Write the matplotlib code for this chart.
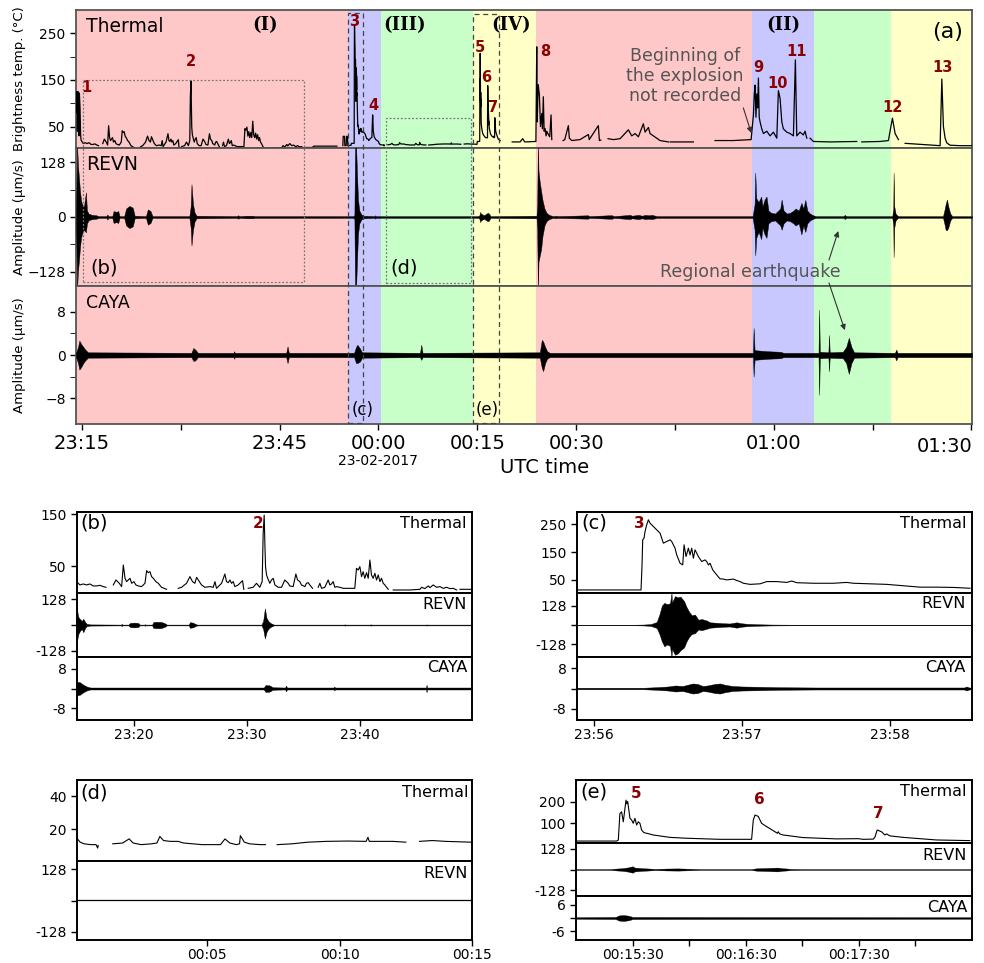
import numpy as np
import matplotlib
matplotlib.use("Agg")
import matplotlib.pyplot as plt
from matplotlib import transforms
from matplotlib.patches import Rectangle

nan = np.nan

# ---------------- DATA (time in minutes after 23:15 UTC unless noted) ----------------
# thermal: brightness temperature (deg C)
thermal_ev1 = [[-0.88, 80], [-0.82, 125], [-0.75, 125], [-0.7, 40], [-0.62, 125], [-0.52, 118],
               [-0.47, 30], [-0.4, 122], [-0.3, 90], [-0.22, 35], [-0.15, 22]]
thermal_b = [[-0.10, 19.9], [0.05, 16.7], [0.19, 13.5], [0.49, 15.4], [0.78, 13.5], [1.08, 15.4],
             [1.37, 11.6], [1.67, 11.6], [1.96, 12.8], [2.26, 10.3], [2.50, 9.0], [nan, nan],
             [3.15, 13.5], [3.39, 23.1], [3.68, 16.7], [3.89, 10.3], [4.04, 51.9], [4.19, 26.3],
             [4.33, 19.9], [4.63, 26.3], [4.78, 16.7], [4.98, 19.9], [5.16, 13.5], [5.37, 11.6],
             [5.66, 10.3], [5.96, 16.7], [6.11, 41.0], [6.25, 37.2], [6.40, 39.1], [6.55, 29.5],
             [6.70, 26.3], [6.93, 19.9], [7.14, 16.7], [7.43, 9.0], [7.88, 5.1], [nan, nan],
             [8.91, 7.0], [9.21, 9.0], [9.65, 16.7], [9.95, 29.5], [10.18, 19.9], [10.39, 16.7],
             [10.54, 28.2], [10.69, 23.1], [10.98, 13.5], [11.28, 9.0], [11.72, 10.3], [12.02, 9.0],
             [12.17, 19.9], [12.31, 7.0], [12.76, 16.7], [13.05, 34.6], [13.20, 19.9], [13.35, 17.9],
             [13.50, 23.1], [13.64, 16.7], [13.79, 19.9], [13.94, 10.3], [14.23, 13.5], [14.53, 19.9],
             [14.62, 21.8], [14.73, 5.1], [nan, nan],
             [15.12, 7.0], [15.56, 9.0], [15.86, 16.7], [16.15, 9.0], [16.36, 19.9], [16.45, 112.8],
             [16.54, 148], [16.60, 93.6], [16.66, 48.7], [16.75, 32.7], [16.89, 24.4], [17.04, 16.7],
             [17.19, 23.1], [17.34, 26.3], [17.49, 13.5], [17.78, 9.0], [18.08, 9.0], [18.37, 23.1],
             [18.52, 19.9], [18.67, 16.7], [18.81, 11.6], [19.11, 10.3], [19.35, 34.6], [19.50, 23.1],
             [19.70, 19.9], [19.85, 13.5], [20.15, 10.3], [20.29, 16.7], [20.44, 17.9], [20.59, 13.5],
             [20.83, 7.0], [nan, nan],
             [21.33, 9.0], [21.48, 16.7], [21.63, 7.0], [21.92, 9.0], [22.22, 23.1], [22.37, 13.5],
             [22.51, 15.4], [22.66, 19.9], [22.81, 9.0], [22.96, 10.3], [23.25, 9.0], [23.55, 7.0],
             [24.14, 7.0], [24.58, 7.0], [24.73, 45.5], [24.88, 42.3], [25.03, 48.7], [25.18, 29.5],
             [25.32, 39.1], [25.47, 26.3], [25.62, 37.2], [25.77, 26.3], [25.92, 61.5], [26.06, 32.7],
             [26.21, 26.3], [26.36, 35.9], [26.51, 23.1], [26.66, 32.7], [26.81, 19.9], [26.95, 26.3],
             [27.10, 16.7], [27.25, 13.5], [27.40, 9.0], [27.55, 5.1], [nan, nan],
             [27.99, 3.8], [29.47, 3.8], [30.36, 5.1], [30.51, 9.0], [30.80, 6.4], [31.10, 11.6],
             [31.25, 8.4], [31.54, 13.5], [31.84, 9.0], [32.13, 10.3], [32.43, 7.0], [32.73, 9.0],
             [33.02, 6.4], [33.32, 7.0], [33.61, 3.8], [nan, nan], [33.91, 5.1], [34.94, 5.1]]
thermal_mid = [[35.2, 8], [38.7, 8], [nan, nan], [39.6, 9], [39.65, 29], [39.85, 29], [39.9, 9],
               [40.1, 9], [40.15, 29], [40.3, 29], [40.35, 9], [40.85, 10]]
# seconds after 23:56:00
thermal_c = [[-7.0, 14], [19.05, 14], [19.46, 104], [19.73, 194], [20.27, 200], [20.68, 224],
             [21.35, 248], [22.03, 266], [22.7, 254], [24.05, 242], [25.4, 230], [26.76, 218],
             [28.1, 182], [29.46, 188], [30.81, 194], [31.49, 188], [32.84, 164], [33.51, 140],
             [34.86, 110], [35.95, 104], [36.49, 176], [37.3, 134], [38.24, 164], [38.92, 140],
             [39.59, 164], [40.27, 128], [40.94, 158], [42.3, 134], [43.65, 116], [45.0, 122],
             [45.68, 116], [46.35, 104], [47.03, 110], [48.11, 86], [49.73, 68], [51.08, 54],
             [52.43, 53], [53.78, 50], [56.49, 53], [57.84, 48], [59.19, 44], [60.54, 38],
             [63.24, 34], [67.3, 36], [70.0, 44], [74.05, 44], [78.11, 41], [80.14, 46], [82.16, 40],
             [88.92, 38], [97.0, 38], [102.4, 41], [105.1, 38], [111.9, 36], [118.7, 34],
             [125.4, 29], [132.2, 24], [138.9, 24], [145.7, 23], [152.4, 20]]
thermal_post3 = [[43.6, 22], [44.0, 27], [44.12, 75], [44.22, 40], [44.35, 28], [44.6, 22], [45.0, 18]]
# minutes after 00:00
thermal_d = [[0.07, 14.5], [0.2, 12], [0.35, 11], [0.6, 10.5], [0.8, 10.5], [0.86, 8.4], [0.88, 10],
             [nan, nan], [1.43, 11], [1.8, 11.5], [2.05, 14], [2.2, 11.5], [2.5, 10.5], [2.9, 11],
             [3.1, 11.5], [3.21, 15.5], [3.35, 13], [3.6, 12.5], [3.9, 12.5], [4.1, 11.5], [4.8, 10.5],
             [5.5, 10.5], [5.67, 14], [5.85, 11.5], [6.1, 10.5], [6.22, 11], [6.25, 16], [6.4, 12],
             [6.6, 11], [7.0, 10.5], [7.2, 10.5], [nan, nan], [7.64, 10.5], [8.2, 11], [8.8, 12],
             [9.5, 12.5], [10.3, 12.7], [11.0, 12.5], [11.07, 15], [11.12, 12.5], [11.6, 12.5],
             [12.0, 12.5], [12.5, 12], [nan, nan], [13.02, 12.5], [13.5, 13], [14.0, 12.5], [14.97, 12]]
# minutes after 00:15
thermal_e = [[0.0, 18], [0.36, 18], [0.374, 23], [0.388, 145], [0.403, 153], [0.418, 107],
             [0.442, 207], [0.45, 190], [0.457, 200], [0.477, 123], [0.492, 115], [0.506, 100],
             [0.521, 123], [0.536, 92], [0.551, 107], [0.565, 100], [0.580, 69], [0.6, 57],
             [0.624, 54], [0.683, 46], [0.83, 35], [0.978, 31], [1.272, 26], [1.552, 26],
             [1.567, 115], [1.582, 138], [1.611, 132], [1.64, 100], [1.684, 85], [1.743, 66],
             [1.78, 54], [1.787, 61], [1.80, 51], [1.831, 46], [2.008, 34], [2.303, 28], [2.494, 29],
             [2.538, 26], [2.627, 27], [2.641, 35], [2.662, 69], [2.70, 61], [2.73, 46], [2.745, 51],
             [2.774, 42], [2.892, 35], [3.186, 23], [3.481, 20]]
thermal_late = [[nan, nan], [65.3, 17], [66.5, 17], [66.9, 24], [67.2, 17], [68.9, 18], [69.03, 221],
                [69.1, 60], [69.25, 140], [69.43, 118], [69.6, 50], [69.79, 78], [69.9, 45],
                [70.03, 114], [70.15, 40], [70.29, 46], [70.45, 30], [70.55, 40], [70.79, 33],
                [71.0, 28], [71.2, 75], [71.31, 22], [nan, nan], [73.03, 20], [73.28, 22], [73.83, 52],
                [73.98, 25], [74.35, 20], [75.6, 22], [76.87, 33], [77.0, 22], [78.38, 52], [78.54, 20],
                [78.75, 21], [nan, nan], [79.86, 24], [80.66, 22], [81.68, 24], [82.94, 43], [83.45, 30],
                [83.96, 35], [84.46, 28], [85.21, 56], [85.48, 38], [85.98, 48], [86.23, 35],
                [86.74, 30], [87.75, 20], [89.01, 17], [nan, nan], [89.27, 17], [92.81, 17], [nan, nan],
                [96.1, 20], [98.88, 20], [101.57, 22], [101.92, 75], [102.05, 120], [102.17, 139],
                [102.3, 70], [102.43, 120], [102.55, 90], [102.68, 154], [102.8, 70], [102.93, 60],
                [103.19, 45], [103.44, 35], [103.95, 40], [104.45, 30], [104.96, 38], [105.47, 25],
                [105.71, 127], [105.97, 110], [106.23, 60], [106.47, 45], [106.99, 38], [107.49, 35],
                [107.99, 30], [108.29, 193], [108.5, 30], [109.0, 38], [109.5, 32], [109.76, 40],
                [110.02, 25], [nan, nan], [110.52, 25], [111.02, 18], [113.56, 17], [117.1, 18],
                [117.61, 18], [nan, nan], [118.37, 17], [121.15, 18], [122.41, 20], [123.02, 68],
                [123.43, 35], [123.93, 22], [nan, nan], [124.95, 14], [130.26, 9], [130.52, 152],
                [130.76, 50], [131.02, 25], [131.27, 15], [131.77, 10], [133.3, 9], [135.1, 9]]

# seismic envelopes: [time, upper amplitude, (lower amplitude magnitude)]
revn_main = [[-0.9, 3], [-0.75, 170], [-0.6, 119, 125], [-0.45, 90, 100], [-0.3, 60, 70], [-0.15, 40, 50],
             [0.0, 30, 40], [0.3, 25, 30], [0.6, 58, 36], [0.75, 15], [1.0, 8], [1.5, 5], [2.2, 4],
             [2.5, 2], [3.7, 2], [3.85, 6], [4.0, 2], [4.6, 2], [4.8, 14], [5.2, 12], [5.5, 14],
             [5.7, 2], [6.4, 2], [6.7, 20], [7.2, 26], [7.7, 22], [8.0, 3], [9.7, 2], [10.0, 18],
             [10.4, 14], [10.7, 2], [16.3, 2], [16.5, 25], [16.62, 77, 67], [16.85, 30], [17.1, 10],
             [17.4, 3], [23.5, 2], [23.7, 4], [23.9, 2], [25.0, 3], [26.0, 3], [26.2, 2], [41.2, 2],
             [41.35, 5], [41.45, 170], [41.6, 170], [41.75, 100], [41.9, 40], [42.1, 15], [42.4, 6],
             [42.8, 3], [44.4, 2], [44.5, 4], [44.6, 2], [59.9, 2], [60.3, 3], [60.45, 12], [60.55, 8],
             [60.8, 6], [61.0, 4], [61.6, 10], [61.8, 8], [62.0, 2], [69.0, 3], [69.1, 30],
             [69.2, 170], [69.3, 108, 105], [69.5, 80, 90], [69.7, 60, 75], [69.9, 40, 45], [70.2, 20],
             [70.5, 10], [70.9, 5], [71.5, 2], [72.0, 3], [72.2, 2], [76.8, 4], [77.0, 2], [79.9, 4],
             [80.5, 4], [80.7, 2], [83.2, 5], [83.5, 3], [84.5, 5], [85.0, 3], [85.5, 5], [86.0, 4],
             [86.5, 5], [87.3, 2], [101.8, 2], [102.1, 30], [102.2, 104, 90], [102.35, 44, 49],
             [102.7, 35], [103.1, 48, 52], [103.3, 25], [103.6, 40], [103.9, 48, 49], [104.2, 15],
             [104.6, 10], [105.2, 8], [106.0, 20], [106.2, 41, 30], [106.5, 15], [107.0, 8],
             [107.5, 10], [108.0, 15], [108.3, 20], [108.8, 15], [109.2, 33, 41], [109.5, 20],
             [109.8, 40, 35], [110.1, 15], [110.5, 8], [111.0, 4], [111.4, 2], [115.6, 2], [115.8, 5],
             [116.0, 2], [123.0, 2], [123.15, 20], [123.2, 104, 94], [123.3, 25], [123.5, 8],
             [123.8, 3], [124.0, 2], [130.7, 2], [130.9, 15], [131.1, 30], [131.3, 41, 31],
             [131.5, 25], [131.8, 8], [132.1, 2], [135.1, 2]]
caya_main = [[-0.9, 0.4], [-0.6, 1.5], [-0.4, 2.66, 2.7], [-0.1, 2.0, 2.2], [0.2, 1.5], [0.5, 1.0],
             [0.9, 0.5], [16.6, 0.4], [16.9, 1.3, 1.1], [17.2, 1.0], [17.6, 0.4], [23.0, 0.4],
             [23.1, 0.7], [23.2, 0.4], [31.0, 0.4], [31.2, 1.6, 1.5], [31.4, 0.4], [41.3, 0.4],
             [41.6, 1.5], [41.8, 1.9, 1.5], [42.2, 1.2], [42.5, 0.5], [51.3, 0.4], [51.5, 1.9, 0.9],
             [51.7, 0.4], [69.5, 0.5], [69.8, 2.8, 2.4], [70.0, 2.5, 3.0], [70.3, 1.5], [70.6, 0.7],
             [71.0, 0.4], [101.85, 0.4], [101.95, 5.0, 4.0], [102.1, 0.9], [104.0, 0.7], [106.0, 0.6],
             [106.5, 0.4], [111.8, 0.4], [111.9, 8.4, 7.4], [112.0, 0.6], [113.3, 0.5],
             [113.4, 3.7, 3.0], [113.5, 0.5], [115.5, 0.6], [116.0, 1.5], [116.4, 3.2, 3.5],
             [116.8, 1.5], [117.2, 0.5], [123.4, 0.4], [123.6, 1.0], [123.8, 0.4], [135.1, 0.4]]
revn_b = [[-0.07, 75, 80], [0.05, 40, 45], [0.19, 30], [0.35, 20], [0.49, 31, 36], [0.65, 15], [0.78, 6],
          [1.1, 3], [3.85, 2], [3.89, 6], [3.95, 2], [4.5, 2], [4.63, 10], [4.98, 12], [5.37, 10],
          [5.5, 2], [5.9, 2], [5.96, 4], [6.02, 2], [6.6, 2], [6.7, 15], [7.14, 16], [7.43, 15],
          [7.75, 8], [7.9, 2], [9.85, 2], [9.95, 14], [10.2, 12], [10.45, 5], [10.6, 2], [16.3, 2],
          [16.45, 20], [16.6, 83, 68], [16.75, 35], [16.9, 20], [17.1, 10], [17.4, 2], [23.6, 2],
          [23.71, 3], [23.8, 2], [25.9, 2], [25.98, 3], [26.1, 2], [30.9, 2], [30.95, 3], [31.0, 2],
          [35.0, 2]]
caya_b = [[-0.07, 2.8], [0.2, 2.5], [0.5, 1.5], [0.8, 0.8], [1.1, 0.4], [16.5, 0.4], [16.66, 1.4],
          [17.0, 1.3], [17.3, 0.5], [18.4, 0.4], [18.48, 1.2], [18.56, 0.4], [22.7, 0.4], [22.76, 0.8],
          [22.82, 0.4], [30.9, 0.4], [30.95, 1.5], [31.0, 0.4], [35.0, 0.4]]
# seconds after 23:56:00
revn_c = [[-7, 1.5], [15, 1.5], [20, 3], [23, 6], [25.4, 20], [26.5, 70, 60], [27.5, 130, 110],
          [28.5, 148, 143], [29.5, 140, 130], [30.8, 145, 140], [31.4, 214], [31.6, 150, 160],
          [32.8, 193, 199], [34.0, 185, 190], [35.0, 190, 170], [36.5, 160, 150], [37.5, 120, 110],
          [38.5, 90, 80], [39.6, 65, 60], [40.9, 70, 55], [42.3, 35, 30], [43.6, 40, 35],
          [45.7, 30, 25], [47.0, 18], [49.7, 15], [52.0, 12], [55.0, 10], [57.8, 18], [59.5, 12],
          [62, 8], [66, 5], [72, 3], [80, 2], [153.5, 2]]
caya_c = [[-7, 0.3], [20, 0.3], [25, 0.5], [30, 0.8], [33, 1.2], [36, 1.0], [38, 1.5], [40, 2.0],
          [42, 1.8], [44, 1.0], [46, 1.2], [49, 1.8], [51, 2.0], [53, 1.5], [56, 1.0], [60, 0.8],
          [66, 0.7], [75, 0.5], [90, 0.4], [150, 0.4], [151, 0.8], [152, 0.4], [153.5, 0.3]]
# minutes after 00:15
revn_e = [[0.0, 3], [0.3, 3], [0.4, 8], [0.45, 12], [0.5, 20], [0.52, 12], [0.6, 8], [0.7, 4],
          [0.8, 6], [0.9, 7], [1.0, 5], [1.1, 3], [1.55, 3], [1.6, 8], [1.7, 10], [1.78, 12],
          [1.83, 8], [1.9, 4], [2.0, 3], [3.5, 3]]
caya_e = [[0.0, 0.4], [0.35, 0.5], [0.38, 1.2], [0.42, 1.4], [0.47, 1.0], [0.5, 0.5], [3.5, 0.4]]

# colored phases
phase_edges = [-0.91, 40.38, 45.39, 59.36, 68.97, 101.77, 111.19, 122.88, 135.1]
phase_colors = ['#FFC8C8', '#C8C8FF', '#C8FFC8', '#FFFFC8', '#FFC8C8', '#C8C8FF', '#C8FFC8', '#FFFFC8']
phase_labels = [(27.8, '(I)'), (49.0, '(III)'), (65.2, '(IV)'), (106.4, '(II)')]
events = [('1', 0.6, 88), ('2', 16.55, 62), ('3', 41.3, 22), ('4', 44.2, 105), ('5', 60.4, 48),
          ('6', 61.3, 77), ('7', 62.4, 108), ('8', 70.3, 52), ('9', 102.6, 68), ('10', 105.6, 83),
          ('11', 108.4, 52), ('12', 123.0, 107), ('13', 130.6, 68)]

main_ticks = [0, 15, 30, 45, 60, 75, 90, 105, 120, 135]
main_ticklabels = ['23:15', '', '23:45', '00:00', '00:15', '00:30', '', '01:00', '', '']

# ---------------- FIGURE ----------------
W, H = 984, 963
plt.rcParams['font.family'] = ['DejaVu Sans']
fig = plt.figure(figsize=(W / 100, H / 100), dpi=100)


def add_ax(l, t, r, b):
    return fig.add_axes([l / W, 1 - b / H, (r - l) / W, (b - t) / H])


def ftext(x, y, s, **kw):
    return fig.text(x / W, 1 - y / H, s, **kw)


def xy(rows, t0=0.0, scale=1.0):
    a = np.array(rows, dtype=float)
    return t0 + a[:, 0] * scale, a[:, 1]


def draw_seis(ax, rows, base, t0=0.0, scale=1.0, lw=0.4):
    t = t0 + np.array([r[0] for r in rows], float) * scale
    up = np.maximum(np.array([r[1] for r in rows], float), base)
    dn = np.maximum(np.array([r[-1] for r in rows], float), base)
    ax.fill_between(t, -dn, up, facecolor='k', edgecolor='k', lw=lw, zorder=3)


def style(ax, col='#555555', lw=1.3):
    for s in ax.spines.values():
        s.set_color(col)
        s.set_linewidth(lw)
    ax.tick_params(direction='out', length=4, width=1, labelsize=10, colors='k')


# main stacked axes
ax_t = add_ax(76, 10, 972, 148)
ax_r = add_ax(76, 148, 972, 286)
ax_c = add_ax(76, 286, 972, 424)
for ax in (ax_t, ax_r, ax_c):
    for i, col in enumerate(phase_colors):
        ax.axvspan(phase_edges[i], phase_edges[i + 1], color=col, lw=0, zorder=0)
    ax.set_xlim(-0.91, 135.1)
    style(ax)

tt = np.concatenate([xy(thermal_ev1)[0], xy(thermal_b)[0], xy(thermal_mid)[0],
                     xy(thermal_c, 41, 1 / 60)[0], xy(thermal_post3)[0], xy(thermal_d, 45)[0],
                     xy(thermal_e, 60)[0], xy(thermal_late)[0]])
tv = np.concatenate([xy(thermal_ev1)[1], xy(thermal_b)[1], xy(thermal_mid)[1],
                     xy(thermal_c, 41, 1 / 60)[1], xy(thermal_post3)[1], xy(thermal_d, 45)[1],
                     xy(thermal_e, 60)[1], xy(thermal_late)[1]])
ax_t.plot(tt, tv, color='k', lw=0.9, zorder=3)
ax_t.set_ylim(4, 300)
ax_t.set_yticks([50, 150, 250])
ax_t.set_yticks([100, 200], minor=True)
ax_t.tick_params(which='minor', length=4, direction='out')

draw_seis(ax_r, revn_main, 0.9, lw=0.3)
ax_r.set_ylim(-162, 162)
ax_r.set_yticks([-128, 0, 128])
ax_r.set_yticks([-64, 64], minor=True)
ax_r.tick_params(which='minor', length=4, direction='out')

draw_seis(ax_c, caya_main, 0.15, lw=0.3)
ax_c.set_ylim(-12.8, 12.8)
ax_c.set_yticks([-8, 0, 8])
ax_c.set_yticks([-4, 4], minor=True)
ax_c.tick_params(which='minor', length=4, direction='out')

for ax in (ax_t, ax_r):
    ax.set_xticks(main_ticks)
    ax.tick_params(axis='x', bottom=False, labelbottom=False)
ax_c.set_xticks(main_ticks)
ax_c.set_xticklabels(main_ticklabels)
ax_c.tick_params(axis='x', labelsize=14, length=4, pad=3)

ftext(972, 447, '01:30', fontsize=14, ha='right', va='center')
ftext(378, 461, '23-02-2017', fontsize=10, ha='center', va='center')
ftext(545, 467, 'UTC time', fontsize=14, ha='center', va='center')
ftext(20, 79, 'Brightness temp. (°C)', fontsize=9.5, rotation=90, ha='center', va='center')
ftext(20, 217, 'Amplitude (μm/s)', fontsize=9.5, rotation=90, ha='center', va='center')
ftext(20, 355, 'Amplitude (μm/s)', fontsize=9.5, rotation=90, ha='center', va='center')

ftext(86, 26, 'Thermal', fontsize=13.5, ha='left', va='center')
ftext(86, 164, 'REVN', fontsize=13.5, ha='left', va='center')
ftext(86, 303, 'CAYA', fontsize=12.5, ha='left', va='center')
ftext(948, 32, '(a)', fontsize=16, ha='center', va='center')

for tx, lab in phase_labels:
    ax_t.text(tx, 268, lab, fontsize=13, fontweight='bold', family='DejaVu Serif',
              ha='center', va='center', zorder=6)

etr = transforms.blended_transform_factory(ax_t.transData, fig.transFigure)
for lab, tx, py in events:
    ax_t.text(tx, 1 - py / H, lab, fontsize=10.5, fontweight='bold', color='#8B0000', ha='center',
              va='center', transform=etr, zorder=6)

# annotations
ax_t.annotate('Beginning of\nthe explosion\nnot recorded', xy=(101.6, 36), xycoords='data',
              xytext=(685 / W, 1 - 76 / H), textcoords='figure fraction', fontsize=12.5,
              color='#555555', ha='center', va='center', linespacing=1.15,
              arrowprops=dict(arrowstyle='-|>', color='#333333', lw=0.8, mutation_scale=8,
                              shrinkA=0, shrinkB=0, relpos=(0.97, 0.12)))
ftext(750, 272, 'Regional earthquake', fontsize=12.5, color='#555555', ha='center', va='center')
ax_r.annotate('', xy=(114.8, -33), xycoords='data', xytext=(829 / W, 1 - 260 / H),
              textcoords='figure fraction',
              arrowprops=dict(arrowstyle='-|>', color='#333333', lw=0.8, mutation_scale=8,
                              shrinkA=0, shrinkB=0))
ax_c.annotate('', xy=(115.8, 4.6), xycoords='data', xytext=(829 / W, 1 - 283 / H),
              textcoords='figure fraction',
              arrowprops=dict(arrowstyle='-|>', color='#333333', lw=0.8, mutation_scale=8,
                              shrinkA=0, shrinkB=0))

# zoom boxes
btr = transforms.blended_transform_factory(ax_t.transData, fig.transFigure)


def box(t0, t1, ytop, ybot, ls, col, lw):
    r = Rectangle((t0, 1 - ybot / H), t1 - t0, (ybot - ytop) / H, transform=btr, fill=False,
                  ls=ls, lw=lw, ec=col, clip_on=False, zorder=7)
    fig.add_artist(r)


box(0.15, 33.7, 80, 282, (0, (1.5, 1.5)), '#777777', 0.9)
box(46.15, 59.05, 118, 283, (0, (1.5, 1.5)), '#777777', 0.9)
box(40.45, 42.66, 13, 423, (0, (4, 3)), '#444444', 0.9)
box(59.36, 63.3, 14, 423, (0, (4, 3)), '#444444', 0.9)
ftext(90, 268, '(b)', fontsize=14, ha='left', va='center')
ftext(390, 268, '(d)', fontsize=14, ha='left', va='center')
ftext(363, 410, '(c)', fontsize=12, ha='center', va='center')
ftext(487, 410, '(e)', fontsize=12, ha='center', va='center')


# ---------------- sub panels ----------------
def sub_stack(l, r, rows_px, xlim):
    axs = []
    for i in range(len(rows_px) - 1):
        a = add_ax(l, rows_px[i], r, rows_px[i + 1])
        a.set_xlim(*xlim)
        style(a, col='k', lw=1.4)
        a.tick_params(axis='x', bottom=False, labelbottom=False)
        axs.append(a)
    axs[-1].tick_params(axis='x', bottom=True, labelbottom=True, labelsize=10, pad=2)
    return axs


def seis_ticks(a, lim, lab):
    a.set_ylim(-lim, lim)
    a.set_yticks([-lab, 0, lab])
    a.set_yticklabels([str(-lab), '', str(lab)])


# (b)
b1, b2, b3 = sub_stack(77, 472, [512, 593, 657, 720], (-0.07, 34.98))
b1.plot(*xy(thermal_b), color='k', lw=0.8)
b1.set_ylim(-2, 154)
b1.set_yticks([50, 150])
draw_seis(b2, revn_b, 1.0, lw=0.3)
seis_ticks(b2, 160, 128)
draw_seis(b3, caya_b, 0.3, lw=0.3)
seis_ticks(b3, 12.8, 8)
b3.set_xticks([5, 15, 25])
b3.set_xticklabels(['23:20', '23:30', '23:40'])

# (c)
c1, c2, c3 = sub_stack(577, 972, [512, 593, 657, 720], (41 - 6.9 / 60, 41 + 153.2 / 60))
c1.plot(*xy(thermal_c, 41, 1 / 60), color='k', lw=0.8)
c1.set_ylim(3, 294)
c1.set_yticks([50, 150, 250])
draw_seis(c2, revn_c, 1.0, 41, 1 / 60, lw=0.3)
seis_ticks(c2, 214, 128)
draw_seis(c3, caya_c, 0.25, 41, 1 / 60, lw=0.3)
seis_ticks(c3, 12.5, 8)
c3.set_xticks([41, 42, 43])
c3.set_xticklabels(['23:56', '23:57', '23:58'])

# (d)
d1, d2 = sub_stack(77, 472, [780, 861, 940], (45.08, 60.0))
d1.plot(*xy(thermal_d, 45), color='k', lw=0.8)
d1.set_ylim(0.5, 50)
d1.set_yticks([20, 40])
draw_seis(d2, revn_main, 0.8, lw=0.2)
seis_ticks(d2, 161, 128)
d2.set_xticks([50, 55, 60])
d2.set_xticklabels(['00:05', '00:10', '00:15'])

# (e)
e1, e2, e3 = sub_stack(576, 972, [780, 843, 896, 940], (60.0, 63.5))
e1.plot(*xy(thermal_e, 60), color='k', lw=0.8)
e1.set_ylim(9, 300)
e1.set_yticks([100, 200])
draw_seis(e2, revn_e, 2.0, 60, lw=0.2)
seis_ticks(e2, 163, 128)
draw_seis(e3, caya_e, 0.25, 60, lw=0.2)
seis_ticks(e3, 10, 6)
e3.set_xticks([60.5, 61, 61.5, 62, 62.5, 63])
e3.set_xticklabels(['00:15:30', '', '00:16:30', '', '00:17:30', ''])

# sub-panel texts
red = '#8B0000'
ftext(80, 523, '(b)', fontsize=14, ha='left', va='center')
ftext(258, 523, '2', fontsize=11, fontweight='bold', color=red, ha='center', va='center')
ftext(467, 523, 'Thermal', fontsize=11.5, ha='right', va='center')
ftext(467, 604, 'REVN', fontsize=11.5, ha='right', va='center')
ftext(467, 667, 'CAYA', fontsize=11.5, ha='right', va='center')

ftext(581, 523, '(c)', fontsize=14, ha='left', va='center')
ftext(639, 523, '3', fontsize=11, fontweight='bold', color=red, ha='center', va='center')
ftext(966, 523, 'Thermal', fontsize=11.5, ha='right', va='center')
ftext(966, 603, 'REVN', fontsize=11.5, ha='right', va='center')
ftext(966, 667, 'CAYA', fontsize=11.5, ha='right', va='center')

ftext(80, 793, '(d)', fontsize=14, ha='left', va='center')
ftext(468, 792, 'Thermal', fontsize=11.5, ha='right', va='center')
ftext(468, 873, 'REVN', fontsize=11.5, ha='right', va='center')

ftext(580, 792, '(e)', fontsize=14, ha='left', va='center')
ftext(636, 793, '5', fontsize=11, fontweight='bold', color=red, ha='center', va='center')
ftext(759, 799, '6', fontsize=11, fontweight='bold', color=red, ha='center', va='center')
ftext(878, 814, '7', fontsize=11, fontweight='bold', color=red, ha='center', va='center')
ftext(967, 791, 'Thermal', fontsize=11.5, ha='right', va='center')
ftext(967, 855, 'REVN', fontsize=11.5, ha='right', va='center')
ftext(967, 907, 'CAYA', fontsize=11.5, ha='right', va='center')

fig.savefig('out.png', dpi=100)
